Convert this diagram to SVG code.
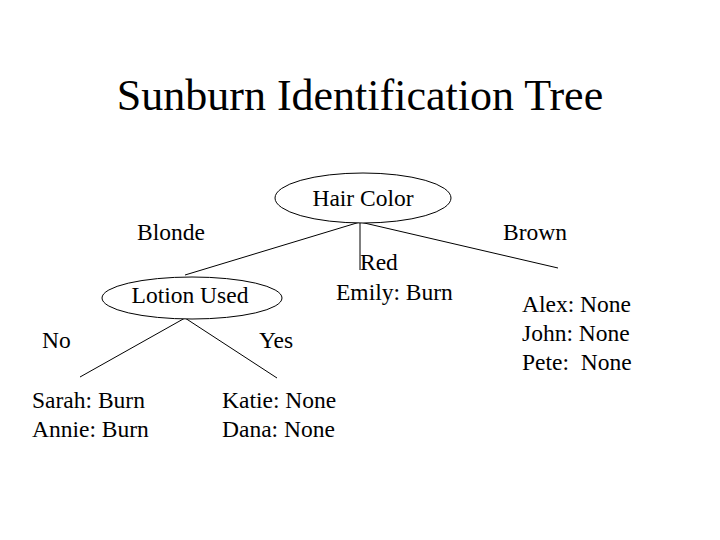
<svg xmlns="http://www.w3.org/2000/svg" width="720" height="540" viewBox="0 0 720 540">
<style>
text{font-family:"Liberation Serif","Times New Roman",serif;fill:#000;font-size:23.5px;white-space:pre}
.title{font-size:44px}
.node{fill:#fff;stroke:#000;stroke-width:1}
.edge{stroke:#000;stroke-width:1;fill:none}
</style>
<rect width="720" height="540" fill="#fff"/>
<text class="title" x="360" y="110" text-anchor="middle">Sunburn Identification Tree</text>
<g id="connectors">
<line class="edge" x1="360" y1="222" x2="185" y2="275"/>
<line class="edge" x1="360" y1="222" x2="360" y2="270"/>
<line class="edge" x1="360" y1="222" x2="558" y2="268"/>
<line class="edge" x1="185" y1="318" x2="80" y2="377"/>
<line class="edge" x1="185" y1="318" x2="277" y2="378"/>
</g>
<g id="hair-color">
<ellipse class="node" cx="363" cy="198" rx="88" ry="25"/>
<text x="363" y="206" text-anchor="middle">Hair Color</text>
</g>
<g id="lotion-used">
<ellipse class="node" cx="192" cy="298" rx="90" ry="21"/>
<text x="190" y="303" text-anchor="middle">Lotion Used</text>
</g>
<g id="edge-labels">
<text x="137" y="240">Blonde</text>
<text x="503" y="240">Brown</text>
<text x="360" y="270">Red</text>
<text x="42" y="348">No</text>
<text x="259" y="348">Yes</text>
</g>
<g id="leaf-red">
<text x="336" y="300">Emily: Burn</text>
</g>
<g id="leaf-brown">
<text x="522" y="312">Alex: None</text>
<text x="522" y="341">John: None</text>
<text x="522" y="370">Pete:  None</text>
</g>
<g id="leaf-no">
<text x="32" y="408">Sarah: Burn</text>
<text x="32" y="437">Annie: Burn</text>
</g>
<g id="leaf-yes">
<text x="222" y="408">Katie: None</text>
<text x="222" y="437">Dana: None</text>
</g>
</svg>
